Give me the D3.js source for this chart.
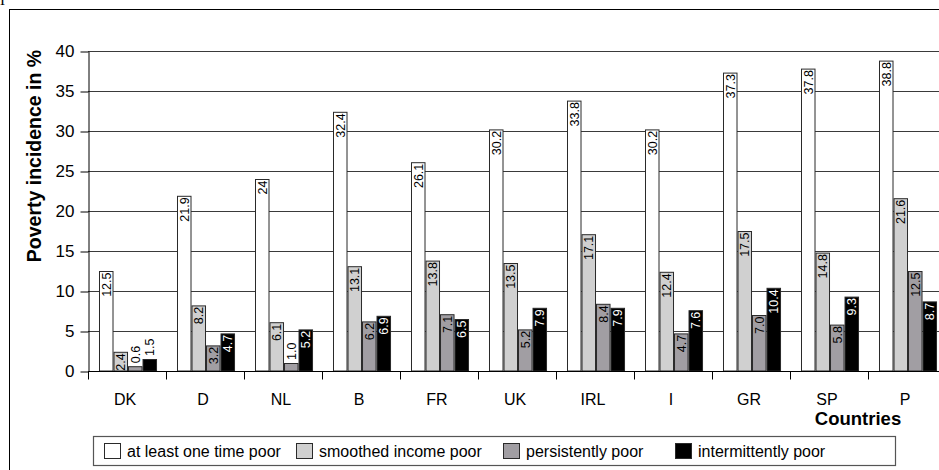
<!DOCTYPE html>
<html>
<head>
<meta charset="utf-8">
<script src="https://cdn.jsdelivr.net/npm/d3@7/dist/d3.min.js"></script>
<style>
  html, body { margin: 0; padding: 0; background: #fff; }
  svg { display: block; }
  svg text { font-family: "Liberation Sans", Arial, sans-serif; }
  svg text.serif { font-family: "Liberation Serif", serif; }
</style>
</head>
<body>
<svg id="chart" width="939" height="470"></svg>
<script>
// ---- data ----
const categories = ["DK", "D", "NL", "B", "FR", "UK", "IRL", "I", "GR", "SP", "P"];
const seriesNames = ["at least one time poor", "smoothed income poor", "persistently poor", "intermittently poor"];
const atLeastOnce   = ["12.5", "21.9", "24",  "32.4", "26.1", "30.2", "33.8", "30.2", "37.3", "37.8", "38.8"];
const smoothed      = ["2.4",  "8.2",  "6.1", "13.1", "13.8", "13.5", "17.1", "12.4", "17.5", "14.8", "21.6"];
const persistently  = ["0.6",  "3.2",  "1.0", "6.2",  "7.1",  "5.2",  "8.4",  "4.7",  "7.0",  "5.8",  "12.5"];
const intermittent  = ["1.5",  "4.7",  "5.2", "6.9",  "6.5",  "7.9",  "7.9",  "7.6",  "10.4", "9.3",  "8.7"];
const yTicks = [0, 5, 10, 15, 20, 25, 30, 35, 40];
const seriesValues = [atLeastOnce, smoothed, persistently, intermittent];
const fills = ["#ffffff", "#d0d0d0", "#a19ea3", "#000000"];

// ---- layout ----
const svg = d3.select("#chart");
const pLeft = 88, pTop = 51, pBottom = 371, pRight = 946;

// outer frame + stray glyph
svg.append("text").attr("class", "serif").attr("x", 0).attr("y", 5)
  .attr("font-size", 15).text("I");
svg.append("rect").attr("x", 9.5).attr("y", 9.5).attr("width", 960).attr("height", 480)
  .attr("fill", "none").attr("stroke", "#000").attr("stroke-width", 1);

const y = d3.scaleLinear().domain([0, 40]).range([pBottom, pTop]);
const x0 = d3.scaleBand().domain(categories).range([pLeft, pRight]).padding(0);
const bw = x0.bandwidth();
const x1 = d3.scaleBand().domain(d3.range(4)).range([bw * 0.141, bw * 0.885]).padding(0);

// gridlines
svg.append("g").selectAll("line").data(yTicks.filter(t => t > 0)).join("line")
  .attr("x1", pLeft).attr("x2", pRight)
  .attr("y1", d => Math.round(y(d)) + 0.5).attr("y2", d => Math.round(y(d)) + 0.5)
  .attr("stroke", "#3a3a3a").attr("stroke-width", 1);

// y axis
const yAxis = d3.axisLeft(y).tickValues(yTicks).tickSize(8).tickPadding(6).tickSizeOuter(0);
const gy = svg.append("g").attr("transform", `translate(${pLeft + 0.5},0.5)`).call(yAxis);
gy.attr("font-family", null);
gy.select(".domain").attr("stroke", "#000");
gy.selectAll(".tick line").attr("stroke", "#000");
gy.selectAll(".tick text").attr("font-size", 17).attr("fill", "#000");

// bars
const groups = svg.append("g").selectAll("g").data(categories).join("g")
  .attr("transform", d => `translate(${x0(d)},0)`);

groups.each(function(cat, ci) {
  const g = d3.select(this);
  seriesValues.forEach((arr, si) => {
    const v = +arr[ci];
    const bx = x1(si), w = x1.bandwidth();
    g.append("rect")
      .attr("x", bx + 0.5).attr("y", y(v) + 0.5)
      .attr("width", w - 1).attr("height", Math.max(0, y(0) - y(v) - 0.5))
      .attr("fill", fills[si]).attr("stroke", "#2a2a2a").attr("stroke-width", 1);
  });
});

// bar labels
groups.each(function(cat, ci) {
  const g = d3.select(this);
  seriesValues.forEach((arr, si) => {
    const v = +arr[ci];
    const cx = x1(si) + x1.bandwidth() / 2;
    const barTop = y(v);
    const h = y(0) - barTop;
    const t = g.append("text")
      .attr("font-size", 12.5)
      .attr("dy", "0.36em")
      .text(arr[ci]);
    const len = t.node().getComputedTextLength();
    if (h >= len + 1) {
      t.attr("transform", `translate(${cx},${barTop + 1.5}) rotate(-90)`)
        .attr("text-anchor", "end")
        .attr("fill", si === 3 ? "#fff" : "#000");
    } else {
      t.attr("transform", `translate(${cx},${barTop - 3}) rotate(-90)`)
        .attr("text-anchor", "start")
        .attr("fill", "#000");
    }
  });
});

// x axis
const gx = svg.append("g").attr("transform", `translate(0,${pBottom + 0.5})`);
gx.append("line").attr("x1", pLeft).attr("x2", pRight).attr("stroke", "#000");
gx.selectAll("line.tk").data(categories.concat(["_end"])).join("line").attr("class", "tk")
  .attr("x1", (d, i) => Math.round(pLeft + i * bw) + 0.5).attr("x2", (d, i) => Math.round(pLeft + i * bw) + 0.5)
  .attr("y1", 0).attr("y2", 8).attr("stroke", "#000");
gx.selectAll("text").data(categories).join("text")
  .attr("x", d => x0(d) + bw / 2 - 2).attr("y", 33)
  .attr("text-anchor", "middle").attr("font-size", 16).text(d => d);

// axis titles
svg.append("text")
  .attr("transform", `translate(41,156) rotate(-90)`)
  .attr("text-anchor", "middle").attr("font-weight", "bold").attr("font-size", 19.5)
  .text("Poverty incidence in %");
svg.append("text").attr("x", 858).attr("y", 425).attr("text-anchor", "middle")
  .attr("font-weight", "bold").attr("font-size", 18.5).text("Countries");

// legend
const lg = svg.append("g");
lg.append("rect").attr("x", 93.5).attr("y", 436.5).attr("width", 802).attr("height", 29)
  .attr("fill", "#fff").attr("stroke", "#555").attr("stroke-width", 1.2);
const legendX = [104, 296, 503, 675];
const items = lg.selectAll("g").data(seriesNames).join("g")
  .attr("transform", (d, i) => `translate(${legendX[i]},0)`);
items.append("rect").attr("x", 0.5).attr("y", 443.5).attr("width", 16).attr("height", 15)
  .attr("fill", (d, i) => fills[i]).attr("stroke", "#2a2a2a");
items.append("text").attr("x", 23).attr("y", 457).attr("font-size", 16).text(d => d);
</script>
</body>
</html>
